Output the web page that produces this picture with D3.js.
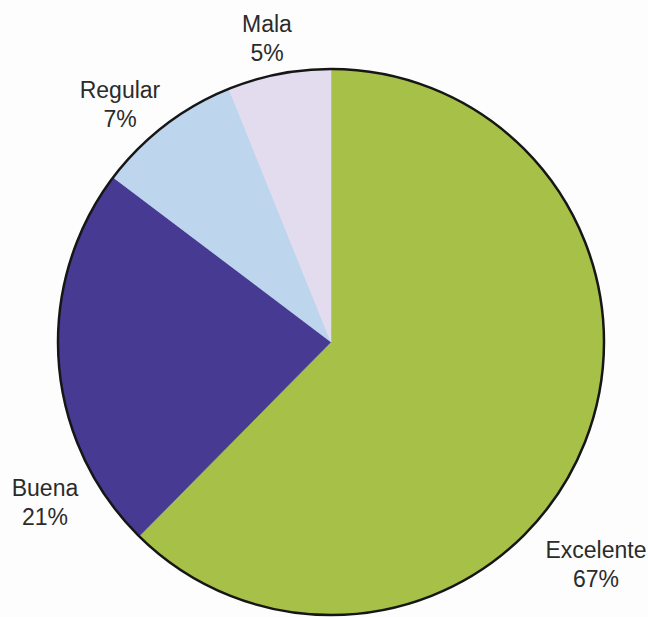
<!DOCTYPE html>
<html>
<head>
<meta charset="utf-8">
<script src="https://cdn.jsdelivr.net/npm/d3@7"></script>
<style>
  html, body { margin: 0; padding: 0; background: #fdfdfd; }
  svg { display: block; }
</style>
</head>
<body>
<svg id="chart" width="648" height="617"></svg>
<script>
// Data
const categories = ["Excelente", "Buena", "Regular", "Mala"];
const percentLabels = ["67%", "21%", "7%", "5%"];
const sliceShares = [62.4, 22.9, 8.6, 6.1];
const colors = ["#a6c048", "#473a92", "#bed5ee", "#e3dcef"];

// Layout
const W = 648, H = 617;
const cx = 331, cy = 342, R = 273;
// label anchors (centre x, first-line baseline), in pixels
const labelAnchors = {
  "Excelente": [596, 558],
  "Buena": [45, 496],
  "Regular": [120, 98],
  "Mala": [267, 32]
};
const lineGap = 29;

const svg = d3.select("#chart");
const g = svg.append("g").attr("transform", `translate(${cx},${cy})`);

const pie = d3.pie().sort(null).value(d => d.v);
const arc = d3.arc().innerRadius(0).outerRadius(R);

const data = categories.map((c, i) => ({ c, v: sliceShares[i], col: colors[i], lab: percentLabels[i] }));

g.selectAll("path.slice")
  .data(pie(data))
  .join("path")
  .attr("class", "slice")
  .attr("d", arc)
  .attr("fill", d => d.data.col)
  .attr("stroke", d => d.data.col)
  .attr("stroke-width", 0.5);

g.append("circle")
  .attr("r", R)
  .attr("fill", "none")
  .attr("stroke", "#161616")
  .attr("stroke-width", 2.5);

const labels = svg.selectAll("text.lbl")
  .data(data)
  .join("text")
  .attr("class", "lbl")
  .attr("text-anchor", "middle")
  .attr("font-family", "'Liberation Sans', Arial, Helvetica, sans-serif")
  .attr("font-size", 23)
  .attr("fill", "#2b2b2b")
  .attr("x", d => labelAnchors[d.c][0])
  .attr("y", d => labelAnchors[d.c][1]);

labels.append("tspan").text(d => d.c);
labels.append("tspan")
  .attr("x", d => labelAnchors[d.c][0])
  .attr("dy", lineGap)
  .text(d => d.lab);
</script>
</body>
</html>
